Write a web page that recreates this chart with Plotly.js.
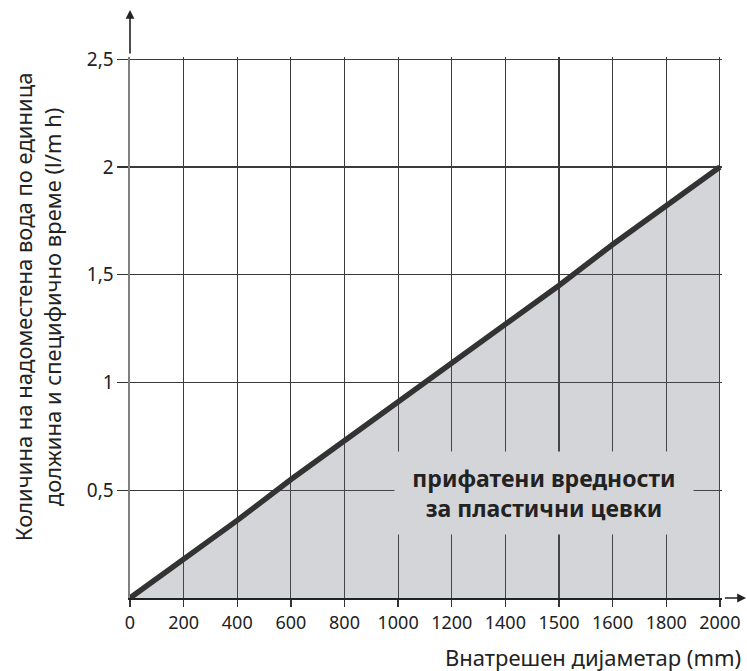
<!DOCTYPE html>
<html>
<head>
<meta charset="utf-8">
<script src="https://cdn.plot.ly/plotly-3.0.1.min.js"></script>
<style>html,body{margin:0;padding:0;background:#fff;}#chart{width:747px;height:671px;}</style>
</head>
<body>
<div id="chart"></div>
<script>
// Tick labels of the x axis (equally spaced in the original, including 1500)
var xLabels = ["0", "200", "400", "600", "800", "1000", "1200", "1400", "1500", "1600", "1800", "2000"];
// Values of the limit line at each tick
var yValues = [0, 0.18, 0.36, 0.55, 0.73, 0.91, 1.09, 1.27, 1.45, 1.64, 1.82, 2.0];
var yTickVals = [0.5, 1, 1.5, 2, 2.5];
var yTickText = ["0,5", "1", "1,5", "2", "2,5"];
var yTitleLines = ["Количина на надоместена вода по единица", "должина и специфично време (l/m h)"];
var xTitle = "Внатрешен дијаметар (mm)";
var areaLabel = ["прифатени вредности", "за пластични цевки"];

var FONT = "Noto Sans, Open Sans, DejaVu Sans, sans-serif";

var traces = [
  {
    x: xLabels, y: yValues, type: "scatter", mode: "lines",
    fill: "tozeroy", fillcolor: "rgba(95,98,110,0.27)",
    line: {width: 0, color: "rgba(0,0,0,0)"}, hoverinfo: "skip", showlegend: false
  },
  {
    x: xLabels, y: yValues, type: "scatter", mode: "lines",
    line: {width: 5.5, color: "#333333"}, hoverinfo: "skip", showlegend: false
  }
];

var layout = {
  width: 747, height: 671,
  margin: {l: 130, r: 25, t: 57, b: 73, pad: 0},
  paper_bgcolor: "#ffffff", plot_bgcolor: "#ffffff",
  font: {family: FONT, size: 18, color: "#222"},
  showlegend: false,
  xaxis: {
    type: "category", range: [0, 11.04],
    showgrid: true, gridcolor: "#3a3a3a", gridwidth: 1.2,
    zeroline: false, showline: true, linecolor: "#222", linewidth: 2,
    ticks: "outside", ticklen: 7, tickwidth: 1.3, tickcolor: "#333",
    tickfont: {family: FONT, size: 18, color: "#222"},
    fixedrange: true
  },
  yaxis: {
    range: [0, 2.51], tickvals: yTickVals, ticktext: yTickText,
    showgrid: true, gridcolor: "#3a3a3a", gridwidth: 1.2,
    zeroline: false, showline: true, linecolor: "#808080", linewidth: 1.6,
    ticks: "outside", ticklen: 11, tickwidth: 1.3, tickcolor: "#333",
    tickfont: {family: FONT, size: 19, color: "#222"},
    fixedrange: true
  },
  annotations: [
    // y axis arrow
    {xref: "paper", yref: "paper", x: 0, y: 1.087, ax: 0, ay: 45, axref: "pixel", ayref: "pixel",
     showarrow: true, arrowhead: 2, arrowsize: 1.1, arrowwidth: 1.6, arrowcolor: "#222", text: ""},
    // x axis arrow
    {xref: "paper", yref: "paper", x: 1.043, y: 0, ax: -24, ay: 0, axref: "pixel", ayref: "pixel",
     showarrow: true, arrowhead: 2, arrowsize: 1.1, arrowwidth: 1.6, arrowcolor: "#222", text: ""},
    // label inside the area
    {xref: "paper", yref: "paper", x: 0.700, y: 0.194, xanchor: "center", yanchor: "middle",
     showarrow: false, text: "<b>" + areaLabel[0] + "</b><br><b>" + areaLabel[1] + "</b>",
     font: {family: FONT, size: 23, color: "#222"}, bgcolor: "#d4d5d8",
     width: 298, height: 82, borderpad: 0, align: "center"},
    // y title
    {xref: "paper", yref: "paper", x: -0.155, y: 0.538, xanchor: "center", yanchor: "middle",
     showarrow: false, textangle: -90, align: "center",
     text: yTitleLines[0] + "<br>" + yTitleLines[1],
     font: {family: FONT, size: 22, color: "#222"}},
    // x title
    {xref: "paper", yref: "paper", x: 1.035, y: -0.109, xanchor: "right", yanchor: "middle",
     showarrow: false, text: xTitle,
     font: {family: FONT, size: 22, color: "#222"}}
  ]
};

Plotly.newPlot("chart", traces, layout, {displayModeBar: false, staticPlot: true});
</script>
</body>
</html>
